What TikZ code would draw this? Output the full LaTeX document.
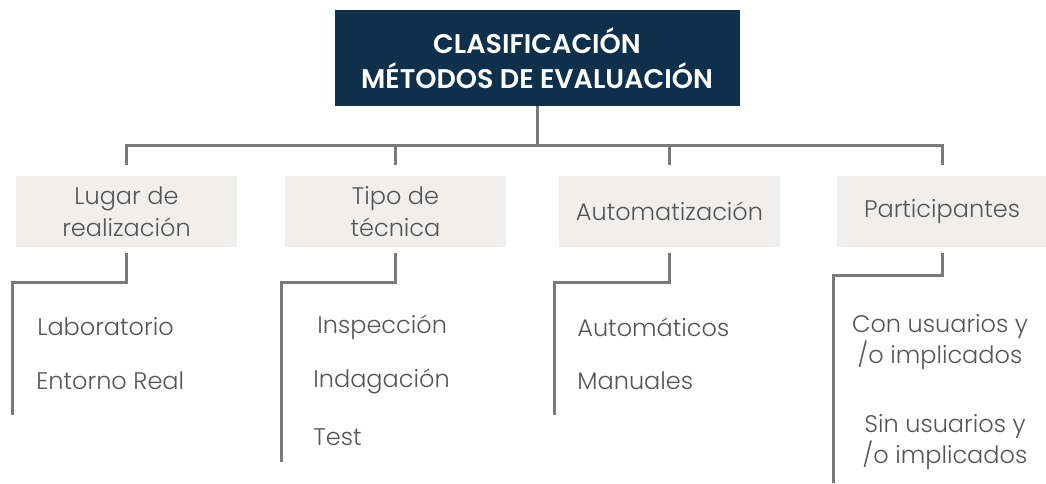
\documentclass[tikz,border=0pt]{standalone}
\usepackage{fontspec}
\setmainfont{Poppins Light}
\newfontfamily\titlefont{Poppins SemiBold}
\usepackage{xcolor}
\definecolor{navy}{HTML}{0F304A}
\definecolor{catgray}{HTML}{F0EFEE}
\definecolor{linegray}{HTML}{7A7A7A}
\definecolor{textgray}{HTML}{555555}
\usetikzlibrary{positioning}

\begin{document}
\begin{tikzpicture}[x=0.5pt, y=-0.5pt,
    title-box/.style={fill=navy, text=white, font=\titlefont\fontsize{13.5}{17.5}\selectfont, align=center, minimum width=202.5pt, minimum height=48pt, inner sep=0pt},
    cat-box/.style={fill=catgray, text=textgray, font=\fontsize{12}{16}\selectfont, align=center, minimum width=110.5pt, minimum height=35.5pt, inner sep=0pt},
    leaf/.style={text=textgray, font=\fontsize{12}{15.5}\selectfont, inner sep=0pt},
    link/.style={draw=linegray, line width=1.5pt}
  ]
\useasboundingbox (0,0) rectangle (1046,483);

% Root node
\node[title-box] (root) at (537,58) {CLASIFICACIÓN\\MÉTODOS DE EVALUACIÓN};
\coordinate (hub) at (537,145);

% Categories
\node[cat-box] (lugar) at (126.5,211.5) {Lugar de\\realización};
\node[cat-box] (tipo) at (395.5,211.5) {Tipo de\\técnica};
\node[cat-box] (auto) at (669.5,211.5) {Automatización};
\node[cat-box, minimum width=105pt] (part) at (942,211.5) {Participantes};

% Root to categories
\draw[link] (root.south) -- (hub);
\draw[link, shorten <=5.5pt] (lugar.north) |- (hub);
\draw[link, shorten <=5.5pt] (part.north) |- (hub);
\draw[link, shorten <=5.5pt] (tipo.north) -- (tipo.north |- hub);
\draw[link, shorten <=5.5pt] (auto.north) -- (auto.north |- hub);

% Leaves
\node[leaf, anchor=west] (lab) at (37,327) {Laboratorio};
\node[leaf, anchor=west] (real) at (36,381) {Entorno Real};
\node[leaf, anchor=west] (insp) at (317,327) {Inspección};
\node[leaf, anchor=west] (inda) at (313,381) {Indagación};
\node[leaf, anchor=west] (test) at (313,437) {Test};
\node[leaf, anchor=west] (autom) at (577,327) {Automáticos};
\node[leaf, anchor=west] (manu) at (577,381) {Manuales};
\node[leaf, align=center] (con) at (940,342) {Con usuarios y\\/o implicados};
\node[leaf, align=center] (sin) at (945,442) {Sin usuarios y\\/o implicados};

% Brackets under each category
\coordinate (k1) at (12,282);   \coordinate (e1) at (12,415);
\coordinate (k2) at (281,282);  \coordinate (e2) at (281,462);
\coordinate (k3) at (554,282);  \coordinate (e3) at (554,415);
\coordinate (k4) at (833,275);  \coordinate (e4) at (833,483);
\draw[link, shorten <=3pt] (lugar.south) |- (k1) -- (e1);
\draw[link, shorten <=3pt] (tipo.south) |- (k2) -- (e2);
\draw[link, shorten <=3pt] (auto.south) |- (k3) -- (e3);
\draw[link, shorten <=3pt] (part.south) |- (k4) -- (e4);

\end{tikzpicture}
\end{document}
